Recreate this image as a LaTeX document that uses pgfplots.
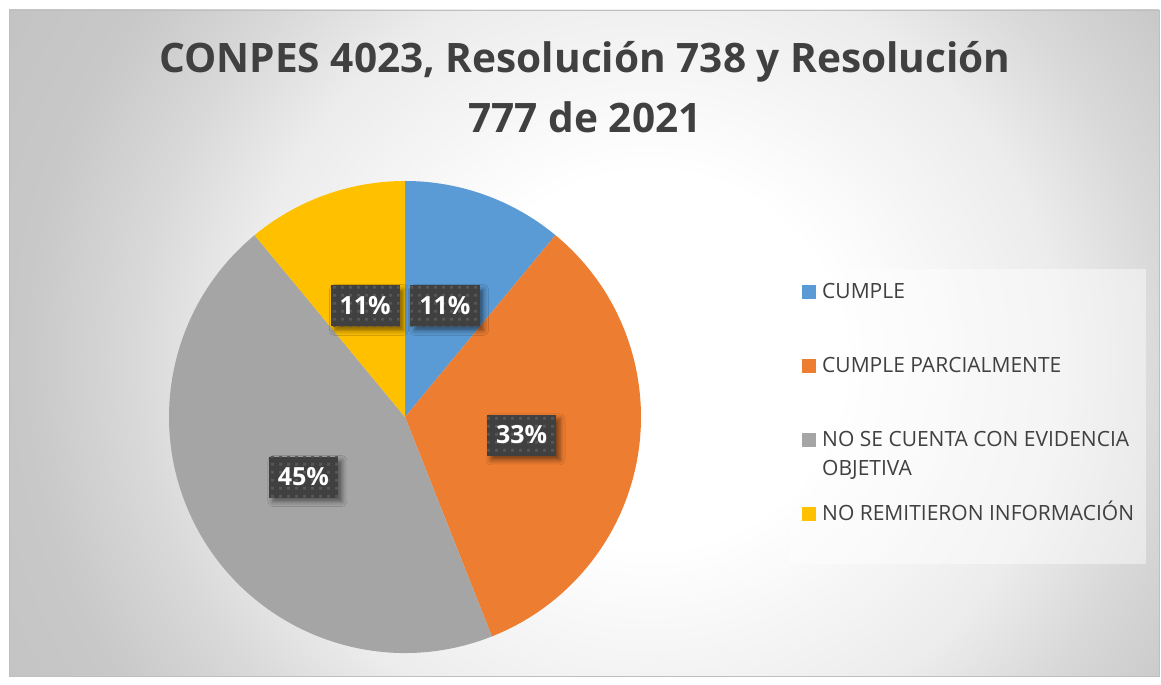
\documentclass[border=0pt]{standalone}
\usepackage{pgfplots}
\pgfplotsset{compat=1.18}
\usepackage{pgfplotstable}
\usepackage{fontspec}
\setmainfont{Open Sans}
\usetikzlibrary{patterns.meta,shadows.blur}

\definecolor{cblue}{HTML}{5B9BD5}
\definecolor{corange}{HTML}{ED7D31}
\definecolor{cgray}{HTML}{A5A5A5}
\definecolor{cyellow}{HTML}{FFC000}
\definecolor{ctext}{HTML}{404040}
\definecolor{lblbg}{HTML}{404040}
\definecolor{lbldot}{HTML}{575757}
\definecolor{bgA}{HTML}{ECECEC}
\definecolor{bgB}{HTML}{D8D8D8}
\definecolor{bgC}{HTML}{C8C8C8}
\definecolor{bgD}{HTML}{C0C0C0}
\definecolor{cborder}{HTML}{BFBFBF}

\pgfdeclareradialshading{bgshade}{\pgfpoint{0bp}{0bp}}{color(0bp)=(white); color(4.5bp)=(white); color(9.5bp)=(bgA); color(12bp)=(bgB); color(14.5bp)=(bgC); color(19bp)=(bgD); color(100bp)=(bgD)}

\tikzdeclarepattern{
  name=lbldots,
  type=uncolored,
  bounding box={(0pt,0pt) and (7.7pt,7.7pt)},
  tile size={(7.7pt,7.7pt)},
  code={\fill (2.3pt,2.3pt) rectangle (5.3pt,5.3pt);}
}

\tikzset{
  lbl/.style={text=white, font=\fontsize{25}{25}\selectfont\bfseries,
    inner xsep=9pt, inner ysep=12pt, text height=17pt, text depth=0pt,
    blur shadow={shadow xshift=4pt, shadow yshift=-4pt, shadow blur radius=5pt, shadow opacity=50},
    preaction={fill=lblbg}, pattern={lbldots}, pattern color=lbldot},
  leg/.style={anchor=base west, inner sep=0pt, text=ctext, font=\fontsize{21}{24}\selectfont},
}

\pgfplotstableread{
idx value
0 11
1 33
2 45
3 11
}\piedata

\begin{document}
\begin{tikzpicture}
\pgfplotstablegetelem{0}{value}\of\piedata \let\vA\pgfplotsretval
\pgfplotstablegetelem{1}{value}\of\piedata \let\vB\pgfplotsretval
\pgfplotstablegetelem{2}{value}\of\piedata \let\vC\pgfplotsretval
\pgfplotstablegetelem{3}{value}\of\piedata \let\vD\pgfplotsretval
\pgfmathsetmacro\tot{\vA+\vB+\vC+\vD}
\pgfmathsetmacro\aA{90}
\pgfmathsetmacro\aB{\aA-360*\vA/\tot}
\pgfmathsetmacro\aC{\aB-360*\vB/\tot}
\pgfmathsetmacro\aD{\aC-360*\vC/\tot}
\pgfmathsetmacro\aE{\aD-360*\vD/\tot}
\pgfmathsetmacro\mA{(\aA+\aB)/2}
\pgfmathsetmacro\mB{(\aB+\aC)/2}
\pgfmathsetmacro\mC{(\aC+\aD)/2}
\pgfmathsetmacro\mD{(\aD+\aE)/2}

% background
\fill[white] (0pt,0pt) rectangle (1161pt,677pt);
\begin{scope}
\clip (9pt,1pt) rectangle (1159pt,667pt);
\shade[shading=bgshade] (-430pt,-723pt) rectangle (1730pt,1357pt);
\end{scope}
\draw[cborder, line width=0.8pt] (9pt,1pt) rectangle (1159pt,667pt);

\begin{axis}[
  at={(0pt,0pt)}, anchor=south west,
  scale only axis, width=1161pt, height=677pt,
  xmin=0, xmax=1161, ymin=0, ymax=677,
  hide axis, clip=false,
]
% pie wedges
\fill[cblue]   (axis cs:405,260) -- ++(\aA:236pt) arc[start angle=\aA, end angle=\aB, radius=236pt] -- cycle;
\fill[corange] (axis cs:405,260) -- ++(\aB:236pt) arc[start angle=\aB, end angle=\aC, radius=236pt] -- cycle;
\fill[cgray]   (axis cs:405,260) -- ++(\aC:236pt) arc[start angle=\aC, end angle=\aD, radius=236pt] -- cycle;
\fill[cyellow] (axis cs:405,260) -- ++(\aD:236pt) arc[start angle=\aD, end angle=\aE, radius=236pt] -- cycle;

% data labels
\node[lbl, shift={(\mA:118pt)}] at (axis cs:405,260) {\vA\%};
\node[lbl, shift={(\mB:118pt)}] at (axis cs:405,260) {\vB\%};
\node[lbl, shift={(\mC:118pt)}] at (axis cs:405,260) {\vC\%};
\node[lbl, shift={(\mD:118pt)}] at (axis cs:405,260) {\vD\%};

% title
\node[anchor=base, inner sep=0pt, text=ctext, font=\fontsize{40.6}{46}\selectfont\bfseries] at (axis cs:585,604) {CONPES 4023, Resolución 738 y Resolución};
\node[anchor=base, inner sep=0pt, text=ctext, font=\fontsize{40.6}{46}\selectfont\bfseries] at (axis cs:585,544) {777 de 2021};

% legend
\fill[white, fill opacity=0.45] (axis cs:790,113) rectangle (axis cs:1146,408);
\fill[cblue]   (axis cs:802,378) rectangle (axis cs:816,392);
\fill[corange] (axis cs:802,304) rectangle (axis cs:816,318);
\fill[cgray]   (axis cs:802,230) rectangle (axis cs:816,244);
\fill[cyellow] (axis cs:802,156) rectangle (axis cs:816,170);
\node[leg] at (axis cs:822,378) {CUMPLE};
\node[leg] at (axis cs:822,304) {CUMPLE PARCIALMENTE};
\node[leg] at (axis cs:822,230) {NO SE CUENTA CON EVIDENCIA};
\node[leg] at (axis cs:822,201) {OBJETIVA};
\node[leg] at (axis cs:822,156) {NO REMITIERON INFORMACIÓN};
\end{axis}
\end{tikzpicture}
\end{document}
